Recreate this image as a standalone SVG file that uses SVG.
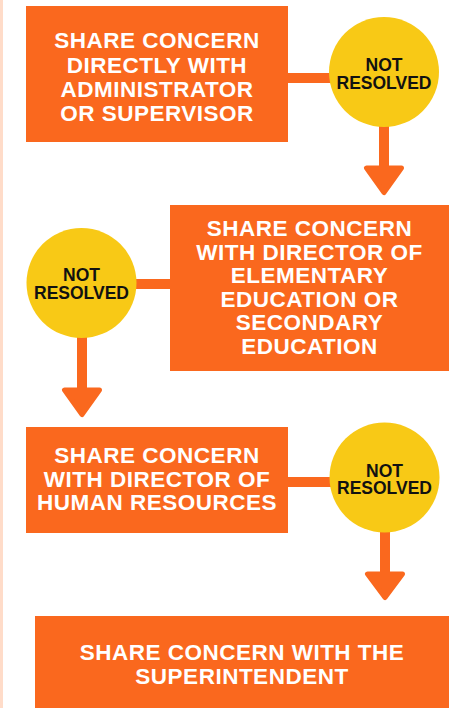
<svg xmlns="http://www.w3.org/2000/svg" width="452" height="708" viewBox="0 0 452 708">
<style>
.box{fill:#FA681E}
.dot{fill:#F8C916}
.lbl{font-family:"Liberation Sans",Arial,sans-serif;font-weight:bold;font-size:22.5px;fill:#FFFFFF;text-anchor:middle;letter-spacing:0.5px}
.nr{font-family:"Liberation Sans",Arial,sans-serif;font-weight:bold;font-size:17.5px;fill:#111111;text-anchor:middle}
.ln{stroke:#FA681E;stroke-width:10;fill:none}
.head{fill:#FA681E;stroke:#FA681E;stroke-width:5;stroke-linejoin:round}
</style>
<rect x="0" y="0" width="452" height="708" fill="#FFFFFF"/>
<rect x="0" y="0" width="3" height="708" fill="#FFDCC9"/>
<g id="connectors">
  <line class="ln" x1="280" y1="78" x2="384" y2="78"/>
  <line class="ln" x1="384" y1="100" x2="384" y2="172"/>
  <polygon class="head" points="366.5,168 401.5,168 384,192.5"/>
  <line class="ln" x1="82" y1="284" x2="178" y2="284"/>
  <line class="ln" x1="82" y1="300" x2="82" y2="394"/>
  <polygon class="head" points="64.5,390 99.5,390 82,414.5"/>
  <line class="ln" x1="280" y1="482" x2="385" y2="482"/>
  <line class="ln" x1="385" y1="500" x2="385" y2="578"/>
  <polygon class="head" points="367.5,574 402.5,574 385,597.5"/>
</g>
<g id="step1">
  <rect class="box" x="26" y="6" width="262" height="136"/>
  <text class="lbl"><tspan x="157" y="48">SHARE CONCERN</tspan><tspan x="157" y="72.5">DIRECTLY WITH</tspan><tspan x="157" y="97">ADMINISTRATOR</tspan><tspan x="157" y="121">OR SUPERVISOR</tspan></text>
</g>
<g id="notresolved1">
  <circle class="dot" cx="384" cy="72" r="55"/>
  <text class="nr"><tspan x="384" y="70.5">NOT</tspan><tspan x="384" y="88.5">RESOLVED</tspan></text>
</g>
<g id="step2">
  <rect class="box" x="170" y="205" width="279" height="166"/>
  <text class="lbl"><tspan x="309.5" y="236">SHARE CONCERN</tspan><tspan x="309.5" y="259.5">WITH DIRECTOR OF</tspan><tspan x="309.5" y="283">ELEMENTARY</tspan><tspan x="309.5" y="306.5">EDUCATION OR</tspan><tspan x="309.5" y="330">SECONDARY</tspan><tspan x="309.5" y="354">EDUCATION</tspan></text>
</g>
<g id="notresolved2">
  <circle class="dot" cx="81.5" cy="283" r="55"/>
  <text class="nr"><tspan x="81.5" y="281">NOT</tspan><tspan x="81.5" y="298.5">RESOLVED</tspan></text>
</g>
<g id="step3">
  <rect class="box" x="26" y="427" width="262" height="106"/>
  <text class="lbl"><tspan x="157" y="463">SHARE CONCERN</tspan><tspan x="157" y="486.5">WITH DIRECTOR OF</tspan><tspan x="157" y="510">HUMAN RESOURCES</tspan></text>
</g>
<g id="notresolved3">
  <circle class="dot" cx="384.5" cy="477.5" r="55"/>
  <text class="nr"><tspan x="384.5" y="476.5">NOT</tspan><tspan x="384.5" y="494">RESOLVED</tspan></text>
</g>
<g id="step4">
  <rect class="box" x="35" y="616" width="414" height="92"/>
  <text class="lbl"><tspan x="242" y="659.5">SHARE CONCERN WITH THE</tspan><tspan x="242" y="683.5">SUPERINTENDENT</tspan></text>
</g>
</svg>
